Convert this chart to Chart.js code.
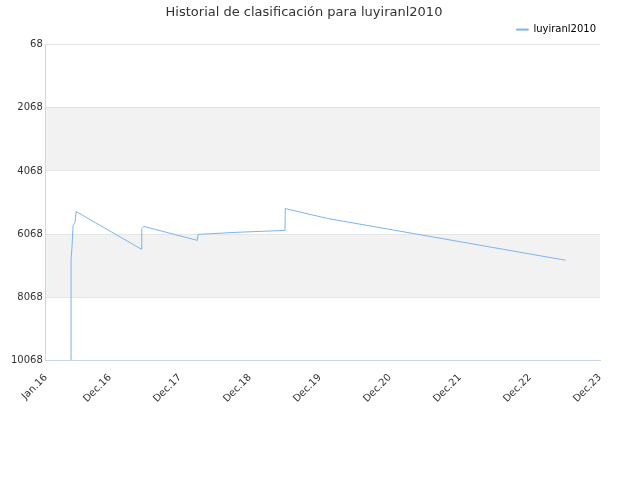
<!DOCTYPE html>
<html>
<head>
<meta charset="utf-8">
<script src="https://cdn.jsdelivr.net/npm/chart.js@4"></script>
<style>
  body { margin: 0; background: #fff; }
  #wrap { width: 640px; height: 480px; position: relative; }
</style>
</head>
<body>
<div id="wrap"><canvas id="chart"></canvas></div>
<script>
// months counted from Jan 2016
const tickMonths = [0, 11, 23, 35, 47, 59, 71, 83, 95];
const tickLabels = ['Jan.16', 'Dec.16', 'Dec.17', 'Dec.18', 'Dec.19', 'Dec.20', 'Dec.21', 'Dec.22', 'Dec.23'];
const yTicks = [68, 2068, 4068, 6068, 8068, 10068];
const pointMonths = [4.33, 4.33, 4.5, 4.67, 5.0, 5.2, 16.4, 16.45, 16.8, 25.95, 26.1, 32.4, 41.0, 41.05, 48.3, 89.1];
const rankings = [10068, 6860, 6452, 5791, 5697, 5351, 6546, 5886, 5823, 6263, 6074, 6011, 5948, 5257, 5571, 6892];
const bands = [[2068, 4068], [6068, 8068]];

const bandPlugin = {
    id: 'bands',
    beforeDraw(chart) {
        const { ctx, chartArea, scales } = chart;
        ctx.save();
        ctx.fillStyle = '#f2f2f2';
        bands.forEach(([a, b]) => {
            const y1 = scales.y.getPixelForValue(a);
            const y2 = scales.y.getPixelForValue(b);
            ctx.fillRect(chartArea.left, y1, chartArea.right - chartArea.left, y2 - y1);
        });
        ctx.restore();
    }
};

new Chart(document.getElementById('chart'), {
    type: 'line',
    data: {
        datasets: [{
            label: 'luyiranl2010',
            data: pointMonths.map((m, i) => ({ x: m, y: rankings[i] })),
            borderColor: '#7cb5ec',
            backgroundColor: '#7cb5ec',
            borderWidth: 1,
            pointRadius: 0,
            tension: 0
        }]
    },
    options: {
        responsive: true,
        maintainAspectRatio: false,
        animation: false,
        layout: { padding: { left: 8, right: 40, top: 0, bottom: 72 } },
        plugins: {
            title: {
                display: true,
                text: 'Historial de clasificación para luyiranl2010',
                color: '#333',
                font: { family: 'DejaVu Sans', size: 13, weight: 'normal' },
                padding: { top: 5, bottom: 0 }
            },
            legend: {
                align: 'end',
                labels: {
                    boxWidth: 12, boxHeight: 1,
                    color: '#000',
                    padding: 4,
                    font: { family: 'DejaVu Sans', size: 10 }
                }
            },
            tooltip: { enabled: false }
        },
        scales: {
            x: {
                type: 'linear',
                min: 0, max: 95,
                afterBuildTicks: (s) => { s.ticks = tickMonths.map(v => ({ value: v })); },
                ticks: {
                    callback: (v) => tickLabels[tickMonths.indexOf(v)],
                    maxRotation: 45, minRotation: 45,
                    color: '#333',
                    font: { family: 'DejaVu Sans', size: 10 }
                },
                grid: { display: false },
                border: { color: '#ccd6eb' }
            },
            y: {
                reverse: true,
                min: 68, max: 10068,
                afterBuildTicks: (s) => { s.ticks = yTicks.map(v => ({ value: v })); },
                ticks: {
                    callback: (v) => String(v),
                    color: '#333',
                    font: { family: 'DejaVu Sans', size: 10 }
                },
                grid: { color: '#e6e6e6', drawTicks: false },
                border: { color: '#ccd6eb' }
            }
        }
    },
    plugins: [bandPlugin]
});
</script>
</body>
</html>
